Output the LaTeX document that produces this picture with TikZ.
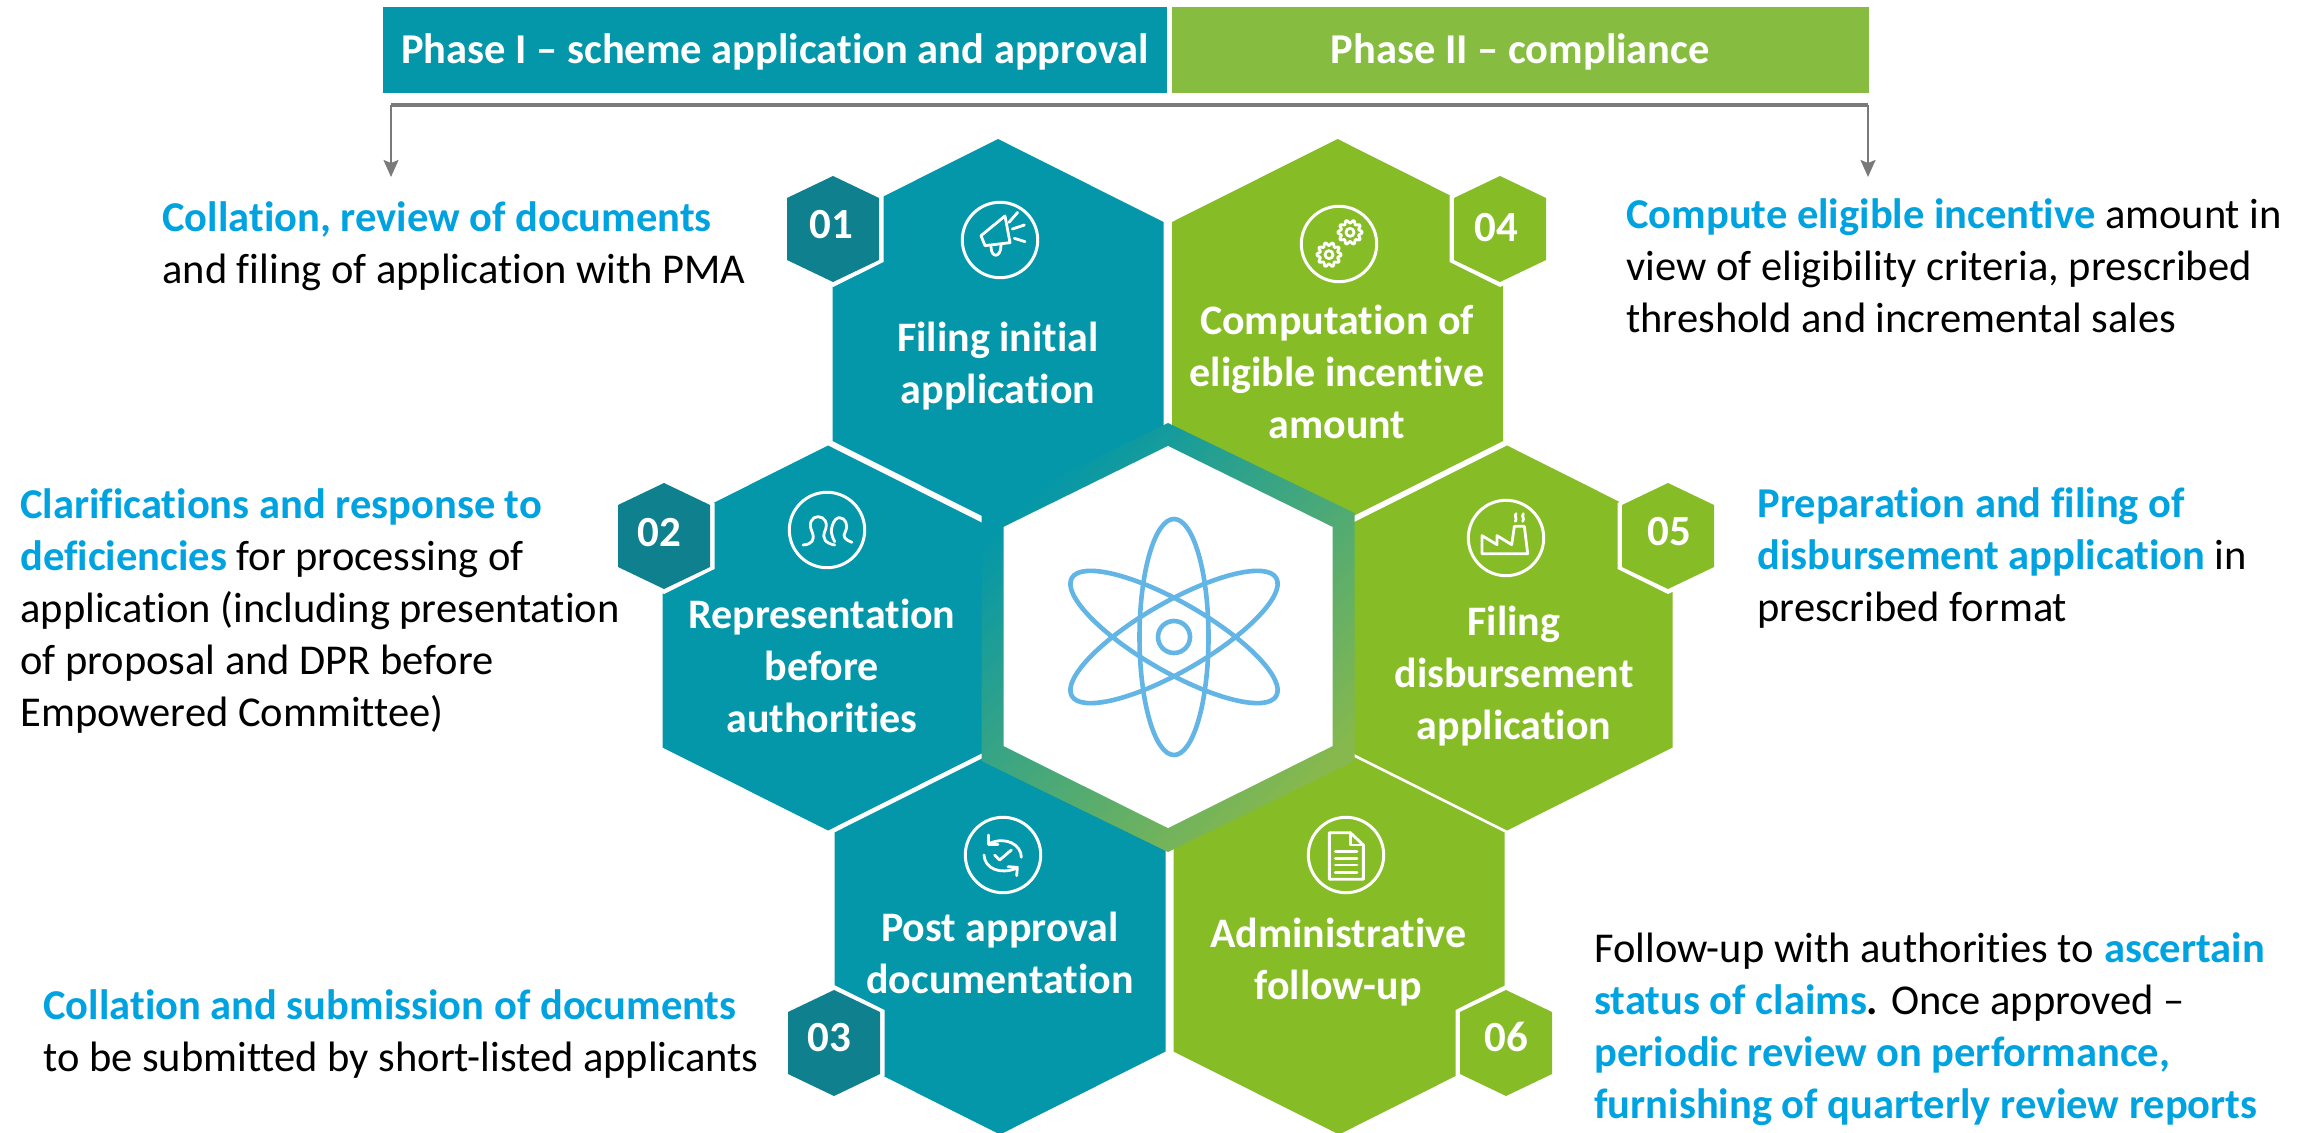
\documentclass[tikz,border=0pt]{standalone}
\usepackage{fontspec}
\setmainfont{Carlito}[Ligatures=NoCommon]
\usetikzlibrary{arrows.meta}
\definecolor{teal1}{HTML}{0397A9}
\definecolor{teal2}{HTML}{0E808E}
\definecolor{green1}{HTML}{86BC25}
\definecolor{green2}{HTML}{86BD40}
\definecolor{ringgreen}{HTML}{86B84E}
\definecolor{txtblue}{HTML}{00A3E0}
\definecolor{atomblue}{HTML}{62B5E5}
\definecolor{linegray}{HTML}{7A7A7A}
\newcommand{\emp}[1]{{\bfseries\color{txtblue}#1}}
\newcommand{\bighex}[3]{\fill[#3] (#1,#2) ++(0,-192.5) -- ++(165.5,83) -- ++(0,219) -- ++(-165.5,83) -- ++(-165.5,-83) -- ++(0,-219) -- cycle;}
\newcommand{\smallhex}[6]{%
  \fill[white] (#1,#2) ++(0,-58) -- ++(50.5,25) -- ++(0,66) -- ++(-50.5,25) -- ++(-50.5,-25) -- ++(0,-66) -- cycle;
  \fill[#3] (#1,#2) ++(0,-53) -- ++(46,22) -- ++(0,62) -- ++(-46,22) -- ++(-46,-22) -- ++(0,-62) -- cycle;
  \node[numlabel] (#4) at (#5,#6) {\csname #4\endcsname};}
\newcommand{\numA}{01}\newcommand{\numB}{02}\newcommand{\numC}{03}
\newcommand{\numD}{04}\newcommand{\numE}{05}\newcommand{\numF}{06}
\newcommand{\headtext}[1]{\raisebox{-7pt}[0pt][0pt]{#1}}
\tikzset{
  hexlabel/.style={text=white,font=\fontsize{21}{25.8}\bfseries\selectfont,align=center,inner sep=0pt},
  numlabel/.style={text=white,font=\fontsize{21.5}{25}\bfseries\selectfont,inner sep=0pt},
  headbox/.style={text=white,font=\fontsize{21.25}{24}\bfseries\selectfont,inner sep=0pt,minimum height=43pt},
  para/.style={text=black,font=\fontsize{21.25}{25.9}\selectfont,align=left,anchor=west,inner sep=0pt},
  icon/.style={draw=white,line width=1.4pt,line cap=round,line join=round},
  iconframe/.style={draw=white,line width=1.5pt,circle,minimum size=37.7pt,inner sep=0pt},
  bracket/.style={draw=linegray,line width=1.6pt},
  drop/.style={draw=linegray,line width=1pt,-{Stealth[length=8.5pt,width=7.5pt,inset=1.5pt]}},
  orbit/.style={draw=atomblue,line width=2.3pt}
}
\begin{document}
\begin{tikzpicture}[x=0.5pt,y=-0.5pt]
\useasboundingbox (0,0) rectangle (2310,1133);
% header
\node[headbox,fill=teal1,minimum width=391.75pt] (ph1) at (775,50) {\headtext{Phase I – scheme application and approval}};
\node[headbox,fill=green2,minimum width=348.25pt] (ph2) at (1520.25,50) {\headtext{Phase II – compliance}};
\coordinate (brL) at (391,105);
\coordinate (brR) at (1868,105);
\coordinate (tgL) at (391,177);
\coordinate (tgR) at (1868,177);
\draw[bracket] (brL) -- (brR);
\draw[drop] (brL) -- (tgL);
\draw[drop] (brR) -- (tgR);
% big hexagons
\bighex{998}{331.5}{teal1}
\bighex{1337.5}{331.5}{green1}
\bighex{828}{638}{teal1}
\bighex{1507}{638}{green1}
\bighex{1000}{942}{teal1}
\bighex{1339}{942}{green1}
% small hexagons
\smallhex{833}{229}{teal2}{numA}{831}{225}
\smallhex{664}{536}{teal2}{numB}{659}{533}
\smallhex{834}{1043}{teal2}{numC}{829}{1038}
\smallhex{1500}{229}{green1}{numD}{1496}{228}
\smallhex{1668}{536}{green1}{numE}{1669}{532}
\smallhex{1506}{1043}{green1}{numF}{1506}{1037}
% centre hexagon
\shade[left color=teal1,right color=ringgreen,shading angle=45]
  (1168,423) -- (1354.5,513) -- (1354.5,761) -- (1168,852) -- (981.5,761) -- (981.5,513) -- cycle;
\fill[white] (1168,446) -- (1332.5,527) -- (1332.5,746) -- (1168,828) -- (1003.5,746) -- (1003.5,527) -- cycle;
% atom
\draw[orbit] (1174,637) circle (16);
\draw[orbit] (1174,637) ellipse [x radius=34.5,y radius=118];
\draw[orbit,rotate around={60:(1174,637)}] (1174,637) ellipse [x radius=34.5,y radius=118];
\draw[orbit,rotate around={-60:(1174,637)}] (1174,637) ellipse [x radius=34.5,y radius=118];
% hex labels
\node[hexlabel] (lA) at (998,366) {Filing initial\\application};
\node[hexlabel] (lD) at (1337,372) {Computation of\\eligible incentive\\amount};
\node[hexlabel] (lB) at (822,666) {Representation\\before\\authorities};
\node[hexlabel] (lE) at (1514,676) {Filing\\disbursement\\application};
\node[hexlabel] (lC) at (1000,953) {Post approval\\documentation};
\node[hexlabel] (lF) at (1338,962) {Administrative\\follow-up};
% icon frames
\node[iconframe] (iA) at (1000,240) {};
\node[iconframe] (iD) at (1339,244) {};
\node[iconframe] (iB) at (827,530) {};
\node[iconframe] (iE) at (1506,538) {};
\node[iconframe] (iC) at (1003,855) {};
\node[iconframe] (iF) at (1346,855) {};
% megaphone
\begin{scope}[shift={(iA.center)},x=0.16667pt,y=-0.16667pt,shift={(-135,-135)}]
 \draw[icon] (78,122) -- (150,63) -- (165,143) -- (90,152) -- cycle;
 \draw[icon] (108,155) .. controls (108,190) and (138,190) .. (138,150);
 \draw[icon] (162,82) -- (188,52);
 \draw[icon] (172,102) -- (208,90);
 \draw[icon] (178,130) -- (210,140);
\end{scope}
% gears
\begin{scope}[shift={(iD.center)},x=0.16667pt,y=-0.16667pt,shift={(-135,-135)}]
 \draw[icon] plot[smooth cycle,samples=60,domain=0:354] ({168+(32+5*cos(10*\x))*cos(\x)},{100+(32+5*cos(10*\x))*sin(\x)});
 \draw[icon] (168,100) circle (12);
 \draw[icon] plot[smooth cycle,samples=60,domain=0:354] ({105+(32+5*cos(10*\x))*cos(\x)},{167+(32+5*cos(10*\x))*sin(\x)});
 \draw[icon] (105,167) circle (12);
\end{scope}
% people
\begin{scope}[shift={(iB.center)},x=0.16667pt,y=-0.16667pt,shift={(-135,-135)}]
 \draw[icon] (63,180) .. controls (90,178) and (100,165) .. (90,140) .. controls (78,115) and (90,95) .. (108,95) .. controls (128,95) and (140,115) .. (128,140) .. controls (120,160) and (130,175) .. (158,180);
 \draw[icon] (158,170) .. controls (150,155) and (145,140) .. (150,125) .. controls (155,105) and (165,98) .. (172,98) .. controls (190,98) and (200,120) .. (190,140) .. controls (180,155) and (190,165) .. (210,172);
\end{scope}
% factory
\begin{scope}[shift={(iE.center)},x=0.16667pt,y=-0.16667pt,shift={(-135,-135)}]
 \draw[icon] (63,182) -- (63,128) -- (108,155) -- (108,128) -- (152,155) -- (160,100) -- (190,100) -- (200,182) -- cycle;
 \draw[icon] (165,62) .. controls (158,72) and (170,75) .. (163,85);
 \draw[icon] (187,62) .. controls (180,72) and (192,75) .. (185,85);
\end{scope}
% refresh and tick
\begin{scope}[shift={(iC.center)},x=0.16667pt,y=-0.16667pt,shift={(-135,-135)}]
 \draw[icon] (110,135) -- (125,150) -- (160,120);
 \draw[icon] (190,142) .. controls (190,105) and (145,78) .. (95,100);
 \draw[icon] (92,75) -- (92,103) -- (120,103);
 \draw[icon] (78,135) .. controls (80,175) and (125,195) .. (175,175);
 \draw[icon] (150,170) -- (178,172) -- (176,197);
\end{scope}
% document
\begin{scope}[shift={(iF.center)},x=0.16667pt,y=-0.16667pt,shift={(-135,-135)}]
 \draw[icon] (85,68) -- (148,68) -- (187,105) -- (187,208) -- (85,208) -- cycle;
 \draw[icon] (148,68) -- (148,105) -- (187,105);
 \draw[icon] (103,125) -- (168,125);
 \draw[icon] (103,145) -- (168,145);
 \draw[icon] (103,165) -- (168,165);
 \draw[icon] (103,187) -- (168,187);
\end{scope}
% paragraphs
\node[para] (tA) at (162,246) {\emp{Collation, review of documents}\\and filing of application with PMA};
\node[para] (tB) at (20,611) {\emp{Clarifications and response to}\\\emp{deficiencies} for processing of\\application (including presentation\\of proposal and DPR before\\Empowered Committee)};
\node[para] (tC) at (43,1034) {\emp{Collation and submission of documents}\\to be submitted by short-listed applicants};
\node[para] (tD) at (1626,266) {\emp{Compute eligible incentive} amount in\\view of eligibility criteria, prescribed\\threshold and incremental sales};
\node[para] (tE) at (1757,558) {\emp{Preparation and filing of}\\\emp{disbursement application} in\\prescribed format};
\node[para] (tF) at (1594,1029) {Follow-up with authorities to \emp{ascertain}\\\emp{status of claims}\textbf{.} Once approved –\\\emp{periodic review on performance,}\\\emp{furnishing of quarterly review reports}};
\end{tikzpicture}
\end{document}
